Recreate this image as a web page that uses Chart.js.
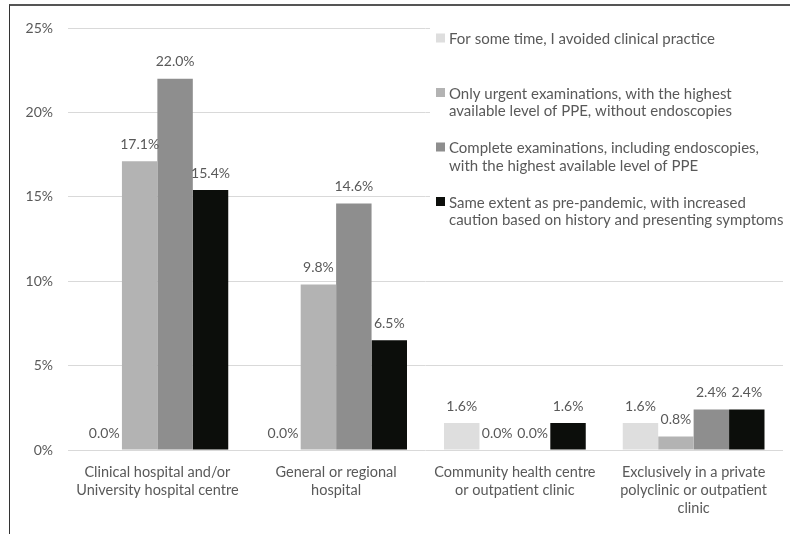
<!DOCTYPE html>
<html>
<head>
<meta charset="utf-8">
<script src="https://cdn.jsdelivr.net/npm/chart.js@4/dist/chart.umd.min.js"></script>
<style>
  body { margin: 0; background: #fff; }
  #wrap { position: relative; width: 790px; height: 534px; }
  #frame { position: absolute; left: 9px; top: 4px; right: 0; bottom: 0;
           border-top: 2px solid #555; border-left: 1px solid #333; }
  #myChart { position: absolute; left: 0; top: 0; }
</style>
</head>
<body>
<div id="wrap">
  <div id="frame"></div>
  <canvas id="myChart" width="790" height="534"></canvas>
</div>
<script>
// places of practice (x axis), one array of lines per label
const places = [
  ['Clinical hospital and/or', 'University hospital centre'],
  ['General or regional', 'hospital'],
  ['Community health centre', 'or outpatient clinic'],
  ['Exclusively in a private', 'polyclinic or outpatient', 'clinic']
];

// legend text, split into lines
const seriesNames = [
  ['For some time, I avoided clinical practice'],
  ['Only urgent examinations, with the highest', 'available level of PPE, without endoscopies'],
  ['Complete examinations, including endoscopies,', 'with the highest available level of PPE'],
  ['Same extent as pre-pandemic, with increased', 'caution based on history and presenting symptoms']
];

// percentages per series
const avoided   = [0.0, 0.0, 1.6, 1.6];
const urgent    = [17.1, 9.8, 0.0, 0.8];
const complete  = [22.0, 14.6, 0.0, 2.4];
const sameAsPre = [15.4, 6.5, 1.6, 2.4];

const yTicks = [0, 5, 10, 15, 20, 25];

const colors = ['#dedede', '#b3b3b3', '#8e8e8e', '#0c0e0b'];
const textColor = '#595959';
const fontFamily = 'Lato, "Open Sans", sans-serif';

// value on top of every bar
const valueLabels = {
  id: 'valueLabels',
  afterDatasetsDraw(chart) {
    const ctx = chart.ctx;
    ctx.save();
    ctx.font = '14px ' + fontFamily;
    ctx.fillStyle = textColor;
    ctx.textAlign = 'center';
    ctx.textBaseline = 'middle';
    chart.data.datasets.forEach((ds, i) => {
      chart.getDatasetMeta(i).data.forEach((bar, j) => {
        ctx.fillText(ds.data[j].toFixed(1) + '%', bar.x, bar.y - 17);
      });
    });
    ctx.restore();
  }
};

// legend box in the upper right corner
const sideLegend = {
  id: 'sideLegend',
  afterDraw(chart) {
    const ctx = chart.ctx;
    ctx.save();
    ctx.fillStyle = '#fff';
    ctx.fillRect(430, 20, 360, 212);
    ctx.font = '15px ' + fontFamily;
    ctx.textAlign = 'left';
    ctx.textBaseline = 'middle';
    chart.data.datasets.forEach((ds, i) => {
      const y0 = 39.5 + i * 54.5;
      ctx.fillStyle = ds.backgroundColor;
      ctx.fillRect(436, y0 - 6, 9, 9);
      ctx.fillStyle = textColor;
      seriesNames[i].forEach((line, k) => {
        ctx.fillText(line, 449, y0 + k * 17.3);
      });
    });
    ctx.restore();
  }
};

const dataset = {
  labels: places,
  datasets: [avoided, urgent, complete, sameAsPre].map((vals, i) => ({
    label: seriesNames[i].join(' '),
    data: vals,
    backgroundColor: colors[i],
    borderWidth: 0,
    categoryPercentage: 0.793,
    barPercentage: 1.0
  }))
};

const config = {
  type: 'bar',
  data: dataset,
  options: {
    responsive: false,
    animation: false,
    layout: { padding: { top: 28, right: 7, bottom: 0, left: 0 } },
    plugins: {
      legend: { display: false },
      tooltip: { enabled: false }
    },
    scales: {
      x: {
        grid: { display: false, drawTicks: false },
        border: { display: false },
        ticks: {
          color: textColor,
          font: { family: fontFamily, size: 14.5, lineHeight: 1.25 },
          padding: 13,
          maxRotation: 0,
          autoSkip: false
        },
        afterFit: (s) => { s.height = 84; }
      },
      y: {
        min: 0,
        max: 25,
        afterBuildTicks: (s) => { s.ticks = yTicks.map(v => ({ value: v })); },
        grid: { color: '#d9d9d9', drawTicks: false },
        border: { display: false },
        ticks: {
          color: textColor,
          font: { family: fontFamily, size: 14 },
          padding: 15,
          callback: (v) => v + '%'
        },
        afterFit: (s) => { s.width = 68; }
      }
    }
  },
  plugins: [valueLabels, sideLegend]
};

const chart = new Chart(document.getElementById('myChart'), config);
</script>
</body>
</html>
